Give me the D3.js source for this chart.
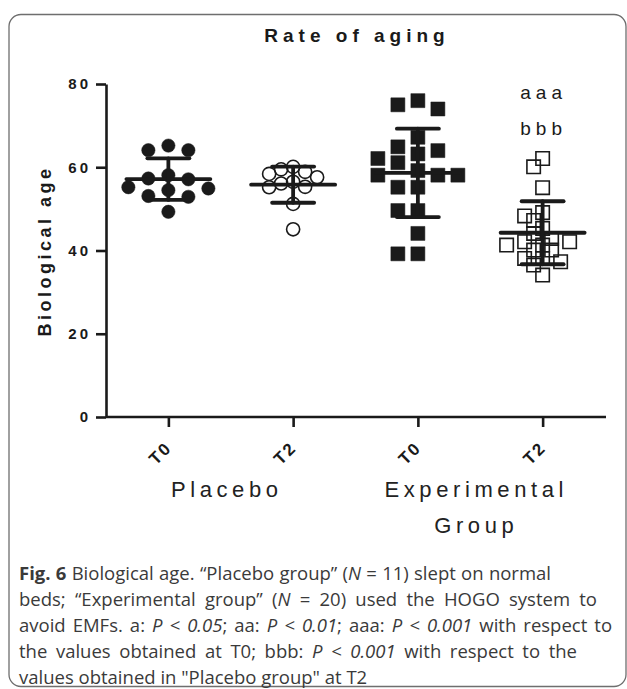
<!DOCTYPE html>
<html>
<head>
<meta charset="utf-8">
<script src="https://cdn.jsdelivr.net/npm/d3@7"></script>
<style>
  body { margin: 0; background: #fff; }
  svg { display: block; }
</style>
</head>
<body>
<script>
// chart values
const categories = ["T0", "T2", "T0", "T2"];
const groupLabels = [["Placebo"], ["Experimental", "Group"]];
const placeboT0 = [65.2, 64.1, 64.1, 58.1, 57.3, 57.1, 55.2, 54.5, 54.9, 53.1, 52.9, 49.3];
const placeboT2 = [60.1, 59.5, 58.9, 58.4, 57.6, 56.5, 56.1, 55.3, 55.2, 51.2, 45.1];
const experimentalT0 = [76.0, 74.0, 75.0, 67.2, 64.9, 63.2, 61.1, 62.1, 64.0, 59.2,
                        58.1, 58.1, 58.1, 55.2, 55.2, 49.6, 49.6, 44.1, 39.2, 39.2];
const experimentalT2 = [62.1, 60.1, 55.1, 49.1, 48.3, 47.2, 45.3, 44.1, 42.1, 41.3,
                        40.1, 40.1, 41.3, 42.1, 38.1, 37.3, 36.5, 38.1, 34.1, 42.9];
const yTicks = [0, 20, 40, 60, 80];
const significance = ["aaa", "bbb"];
const title = "Rate of aging";
const yTitle = "Biological age";

// caption lines: [text, style] pieces
const captionLines = [
  [["Fig. 6", "b"], [" Biological age. \u201CPlacebo group\u201D (", ""], ["N", "i"], [" = 11) slept on normal", ""]],
  [["beds; \u201CExperimental group\u201D (", ""], ["N", "i"], [" = 20) used the HOGO system to", ""]],
  [["avoid EMFs. a: ", ""], ["P < 0.05", "i"], ["; aa: ", ""], ["P < 0.01", "i"], ["; aaa: ", ""], ["P < 0.001", "i"], [" with respect to", ""]],
  [["the values obtained at T0; bbb: ", ""], ["P < 0.001", "i"], [" with respect to the", ""]],
  [["values obtained in \"Placebo group\" at T2", ""]]
];
// last line is left as it comes (null)
const captionWidths = [532, 578, 593, 558, null];

const W = 627, H = 689;
const ink = "#1a1a1a";

const svg = d3.select("body").append("svg")
  .attr("width", W)
  .attr("height", H);

// frame around figure + caption
svg.append("rect")
  .attr("x", 9).attr("y", 14.5)
  .attr("width", 617).attr("height", 672)
  .attr("rx", 12)
  .attr("fill", "none")
  .attr("stroke", "#6e6e6e")
  .attr("stroke-width", 1.3);

const x = d3.scalePoint()
  .domain(d3.range(categories.length))
  .range([106, 605])
  .padding(0.5);

const y = d3.scaleLinear()
  .domain([0, 80])
  .range([417, 84]);

// title
svg.append("text")
  .attr("x", 357).attr("y", 42)
  .attr("text-anchor", "middle")
  .style("font-family", "Liberation Sans, Arial, sans-serif")
  .style("font-weight", "bold")
  .style("font-size", "19px")
  .style("letter-spacing", "5px")
  .attr("fill", ink)
  .text(title);

// y axis
const yAxis = svg.append("g")
  .attr("transform", "translate(106,0)")
  .call(d3.axisLeft(y).tickValues(yTicks).tickSize(10).tickSizeOuter(0).tickPadding(5));
yAxis.select(".domain").attr("stroke", ink).attr("stroke-width", 2.6);
yAxis.selectAll(".tick line").attr("stroke", ink).attr("stroke-width", 2.6);
yAxis.selectAll(".tick text")
  .style("font-family", "Liberation Sans, Arial, sans-serif")
  .style("font-weight", "bold")
  .style("font-size", "15px")
  .style("letter-spacing", "3px")
  .attr("fill", ink);

svg.append("text")
  .attr("transform", "translate(51,251) rotate(-90)")
  .attr("text-anchor", "middle")
  .style("font-family", "Liberation Sans, Arial, sans-serif")
  .style("font-weight", "bold")
  .style("font-size", "18px")
  .style("letter-spacing", "3.5px")
  .attr("fill", ink)
  .text(yTitle);

// x axis
const xAxis = svg.append("g")
  .attr("transform", "translate(0,417)")
  .call(d3.axisBottom(x).tickSize(10).tickSizeOuter(0).tickFormat(i => categories[i]));
xAxis.select(".domain").attr("stroke", ink).attr("stroke-width", 2.6)
  .attr("d", "M106,0H606");
xAxis.selectAll(".tick line").attr("stroke", ink).attr("stroke-width", 2.6);
xAxis.selectAll(".tick text")
  .attr("x", 0).attr("y", 0).attr("dy", 0)
  .attr("text-anchor", "end")
  .attr("transform", "translate(4,32) rotate(-45)")
  .style("font-family", "Liberation Sans, Arial, sans-serif")
  .style("font-weight", "bold")
  .style("font-size", "17px")
  .style("letter-spacing", "2px")
  .attr("fill", ink);

// group labels under the ticks
groupLabels.forEach((lines, g) => {
  const cx = (x(g * 2) + x(g * 2 + 1)) / 2;
  lines.forEach((t, k) => {
    svg.append("text")
      .attr("x", cx - 4).attr("y", 497 + k * 36)
      .attr("text-anchor", "middle")
      .style("font-family", "Liberation Sans, Arial, sans-serif")
      .style("font-size", "22px")
      .style("letter-spacing", "4.6px")
      .attr("fill", "#222")
      .text(t);
  });
});

// simple column scatter: put each point as close to the centre as it can go
function dodge(vals, minDist, step) {
  const placed = [];
  const out = new Array(vals.length);
  d3.range(vals.length).sort((a, b) => vals[b] - vals[a]).forEach(i => {
    const py = y(vals[i]);
    for (let k = 0; k < 30; k++) {
      const off = k === 0 ? 0 : (k % 2 ? -1 : 1) * Math.ceil(k / 2) * step;
      if (placed.every(p => (p.x - off) ** 2 + (p.y - py) ** 2 >= minDist * minDist)) {
        out[i] = {dx: off, y: py};
        placed.push({x: off, y: py});
        break;
      }
    }
  });
  return out;
}

const series = [
  {vals: placeboT0, symbol: d3.symbolCircle, size: 140, filled: true, minDist: 14, step: 20},
  {vals: placeboT2, symbol: d3.symbolCircle, size: 135, filled: false, minDist: 12, step: 12},
  {vals: experimentalT0, symbol: d3.symbolSquare, size: 196, filled: true, minDist: 15, step: 20},
  {vals: experimentalT2, symbol: d3.symbolSquare, size: 180, filled: false, minDist: 10, step: 9}
];

series.forEach((s, i) => {
  const cx = x(i);
  const pts = dodge(s.vals, s.minDist, s.step);
  svg.append("g").selectAll("path")
    .data(pts)
    .enter()
    .append("path")
    .attr("transform", d => `translate(${cx + d.dx},${d.y})`)
    .attr("d", d3.symbol().type(s.symbol).size(s.size))
    .attr("fill", s.filled ? ink : "none")
    .attr("stroke", ink)
    .attr("stroke-width", s.filled ? 0.5 : 1.6);

  const m = d3.mean(s.vals);
  const sd = d3.deviation(s.vals);
  const bars = svg.append("g")
    .attr("stroke", ink)
    .attr("stroke-width", 3.8)
    .attr("stroke-linecap", "round");
  bars.append("line")
    .attr("x1", cx - 42).attr("x2", cx + 42)
    .attr("y1", y(m)).attr("y2", y(m));
  bars.append("line")
    .attr("x1", cx).attr("x2", cx)
    .attr("y1", y(m + sd)).attr("y2", y(m - sd));
  [m + sd, m - sd].forEach(v => {
    bars.append("line")
      .attr("x1", cx - 21).attr("x2", cx + 21)
      .attr("y1", y(v)).attr("y2", y(v));
  });
});

// significance marks above experimental T2
significance.forEach((t, k) => {
  svg.append("text")
    .attr("x", x(3) + 1).attr("y", 99 + k * 36)
    .attr("text-anchor", "middle")
    .style("font-family", "Liberation Sans, Arial, sans-serif")
    .style("font-size", "19px")
    .style("letter-spacing", "5px")
    .attr("fill", ink)
    .text(t);
});

// caption, each line stretched to the width it has in the figure
captionLines.forEach((pieces, k) => {
  const t = svg.append("text")
    .attr("x", 19).attr("y", 580 + k * 26)
    .style("font-family", "Open Sans, sans-serif")
    .style("font-size", "18.5px")
    .attr("fill", "#3a3a3a")
    .attr("xml:space", "preserve")
    .style("white-space", "pre");
  pieces.forEach(p => {
    t.append("tspan")
      .style("font-weight", p[1] === "b" ? "bold" : null)
      .style("font-style", p[1] === "i" ? "italic" : null)
      .text(p[0]);
  });
  if (captionWidths[k] == null) return;
  const natural = t.node().getComputedTextLength();
  const spaces = pieces.map(p => p[0]).join("").split(" ").length - 1;
  t.style("word-spacing", ((captionWidths[k] - natural) / spaces) + "px");
});
</script>
</body>
</html>
